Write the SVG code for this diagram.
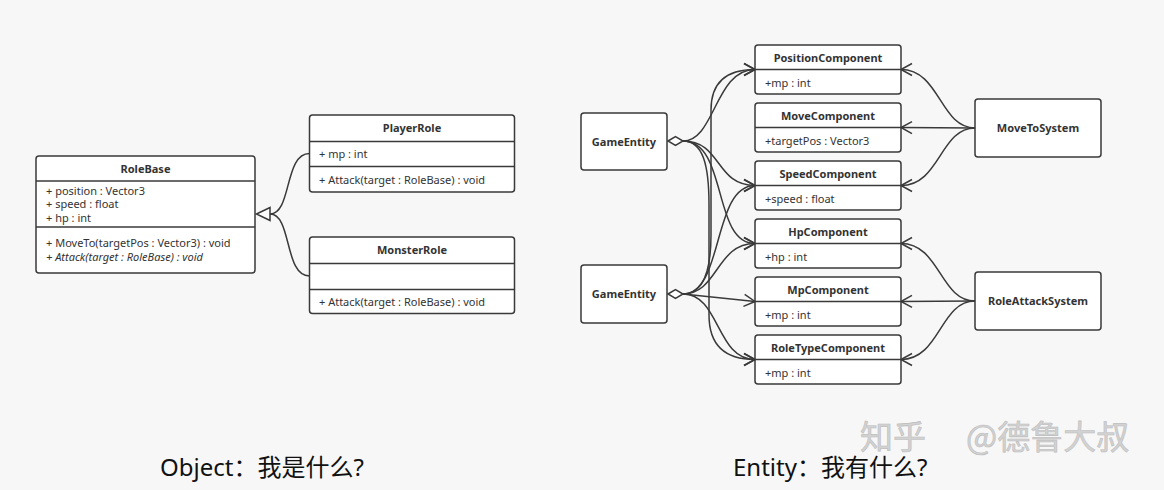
<svg xmlns="http://www.w3.org/2000/svg" width="1164" height="490" viewBox="0 0 1164 490">
<style>
.box{fill:#fff;stroke:#3a3a3a;stroke-width:1.5}
.div{stroke:#3a3a3a;stroke-width:1.5;fill:none}
.t{font-family:"Noto Sans","Liberation Sans",sans-serif;font-size:11px;fill:#333}
.b{font-weight:bold;text-anchor:middle}
.i{font-style:italic}
.e{fill:none;stroke:#3a3a3a;stroke-width:1.5}
.cap{font-family:"Noto Sans","Noto Sans CJK SC",sans-serif;font-size:24px;fill:#111}
.wm{font-family:"Noto Sans CJK SC",sans-serif;font-size:33px;fill:#d2d2d2;stroke:#bdbdbd;stroke-width:0.6}
</style>
<defs>
<marker id="arr" markerUnits="userSpaceOnUse" markerWidth="16" markerHeight="16" refX="12" refY="7" orient="auto" viewBox="0 0 16 14">
<path d="M1,1 L12,7 L1,13" fill="none" stroke="#3a3a3a" stroke-width="1.5"/>
</marker>
<polygon id="dia" points="-15,0 -7.5,-4.5 0,0 -7.5,4.5" fill="#fff" stroke="#3a3a3a" stroke-width="1.5"/>
</defs>
<rect width="1164" height="490" fill="#f7f7f7"/>

<g id="connectors">
<path class="e" d="M270,214 C292,214 284,153.5 309.5,153.5"/>
<path class="e" d="M270,214 C292,214 284,276 309.5,276"/>
<polygon points="256.5,214 270,207.5 270,220.5" fill="#fff" stroke="#3a3a3a" stroke-width="1.5"/>
<path class="e" marker-end="url(#arr)" d="M683,141 C715,141 715,69.5 755,69.5"/>
<path class="e" marker-end="url(#arr)" d="M683,141 C722,141 715,185.5 755,185.5"/>
<path class="e" marker-end="url(#arr)" d="M683,141 C728,141 712,243.5 755,243.5"/>
<path class="e" marker-end="url(#arr)" d="M683,141 C703,141 709,165 709,205 L709,315 C709,345 724,359.5 755,359.5"/>
<path class="e" marker-end="url(#arr)" d="M683,294 C703,294 711,270 711,235 L711,110 C711,84 725,69.5 755,69.5"/>
<path class="e" marker-end="url(#arr)" d="M683,294 C724,294 712,185.5 755,185.5"/>
<path class="e" marker-end="url(#arr)" d="M683,294 C718,294 716,243.5 755,243.5"/>
<path class="e" marker-end="url(#arr)" d="M683,294 L755,301.5"/>
<path class="e" marker-end="url(#arr)" d="M683,294 C720,294 716,359.5 755,359.5"/>
<use href="#dia" x="683" y="141"/>
<use href="#dia" x="683" y="294"/>
<path class="e" marker-end="url(#arr)" d="M975,128 C940,128 940,69.5 901,69.5"/>
<path class="e" marker-end="url(#arr)" d="M975,128 L901,127.5"/>
<path class="e" marker-end="url(#arr)" d="M975,128 C940,128 940,185.5 901,185.5"/>
<path class="e" marker-end="url(#arr)" d="M975,301 C940,301 940,243.5 901,243.5"/>
<path class="e" marker-end="url(#arr)" d="M975,301 L901,301.5"/>
<path class="e" marker-end="url(#arr)" d="M975,301 C940,301 940,359.5 901,359.5"/>
</g>

<g id="RoleBase">
<rect class="box" x="36" y="156" width="219" height="117" rx="3"/>
<line class="div" x1="36" y1="181" x2="255" y2="181"/>
<line class="div" x1="36" y1="227" x2="255" y2="227"/>
<text class="t b" x="145.5" y="173">RoleBase</text>
<text class="t" x="46" y="194.5">+ position : Vector3</text>
<text class="t" x="46" y="208">+ speed : float</text>
<text class="t" x="46" y="221.5">+ hp : int</text>
<text class="t" x="46" y="247">+ MoveTo(targetPos : Vector3) : void</text>
<text class="t i" x="46" y="260.5">+ Attack(target : RoleBase) : void</text>
</g>

<g id="PlayerRole">
<rect class="box" x="309.5" y="115" width="205" height="77" rx="3"/>
<line class="div" x1="309.5" y1="141.5" x2="514.5" y2="141.5"/>
<line class="div" x1="309.5" y1="166.5" x2="514.5" y2="166.5"/>
<text class="t b" x="412" y="132">PlayerRole</text>
<text class="t" x="319" y="157.5">+ mp : int</text>
<text class="t" x="319" y="184">+ Attack(target : RoleBase) : void</text>
</g>

<g id="MonsterRole">
<rect class="box" x="309.5" y="237" width="205" height="76.5" rx="3"/>
<line class="div" x1="309.5" y1="263.5" x2="514.5" y2="263.5"/>
<line class="div" x1="309.5" y1="289.5" x2="514.5" y2="289.5"/>
<text class="t b" x="412" y="254">MonsterRole</text>
<text class="t" x="319" y="305.5">+ Attack(target : RoleBase) : void</text>
</g>

<g id="GameEntity1">
<rect class="box" x="581" y="113" width="86" height="57" rx="3"/>
<text class="t b" x="624" y="145.5">GameEntity</text>
</g>
<g id="GameEntity2">
<rect class="box" x="581" y="265" width="86" height="58" rx="3"/>
<text class="t b" x="624" y="298">GameEntity</text>
</g>

<g id="PositionComponent">
<rect class="box" x="755" y="45" width="146" height="49" rx="3"/>
<line class="div" x1="755" y1="69.5" x2="901" y2="69.5"/>
<text class="t b" x="828" y="61.5">PositionComponent</text>
<text class="t" x="765" y="86.5">+mp : int</text>
</g>
<g id="MoveComponent">
<rect class="box" x="755" y="103" width="146" height="49" rx="3"/>
<line class="div" x1="755" y1="127.5" x2="901" y2="127.5"/>
<text class="t b" x="828" y="119.5">MoveComponent</text>
<text class="t" x="765" y="144.5">+targetPos : Vector3</text>
</g>
<g id="SpeedComponent">
<rect class="box" x="755" y="161" width="146" height="49" rx="3"/>
<line class="div" x1="755" y1="185.5" x2="901" y2="185.5"/>
<text class="t b" x="828" y="177.5">SpeedComponent</text>
<text class="t" x="765" y="202.5">+speed : float</text>
</g>
<g id="HpComponent">
<rect class="box" x="755" y="219" width="146" height="49" rx="3"/>
<line class="div" x1="755" y1="243.5" x2="901" y2="243.5"/>
<text class="t b" x="828" y="235.5">HpComponent</text>
<text class="t" x="765" y="260.5">+hp : int</text>
</g>
<g id="MpComponent">
<rect class="box" x="755" y="277" width="146" height="49" rx="3"/>
<line class="div" x1="755" y1="301.5" x2="901" y2="301.5"/>
<text class="t b" x="828" y="293.5">MpComponent</text>
<text class="t" x="765" y="318.5">+mp : int</text>
</g>
<g id="RoleTypeComponent">
<rect class="box" x="755" y="335" width="146" height="49" rx="3"/>
<line class="div" x1="755" y1="359.5" x2="901" y2="359.5"/>
<text class="t b" x="828" y="351.5">RoleTypeComponent</text>
<text class="t" x="765" y="376.5">+mp : int</text>
</g>

<g id="MoveToSystem">
<rect class="box" x="975" y="99" width="126" height="58" rx="3"/>
<text class="t b" x="1038" y="132">MoveToSystem</text>
</g>
<g id="RoleAttackSystem">
<rect class="box" x="975" y="272" width="126" height="58" rx="3"/>
<text class="t b" x="1038" y="305">RoleAttackSystem</text>
</g>

<text class="cap" x="160" y="476">Object：我是什么?</text>
<text class="cap" x="733" y="476">Entity：我有什么?</text>
<text class="wm" x="860" y="449">知乎</text>
<text class="wm" x="966" y="449">@德鲁大叔</text>
</svg>
